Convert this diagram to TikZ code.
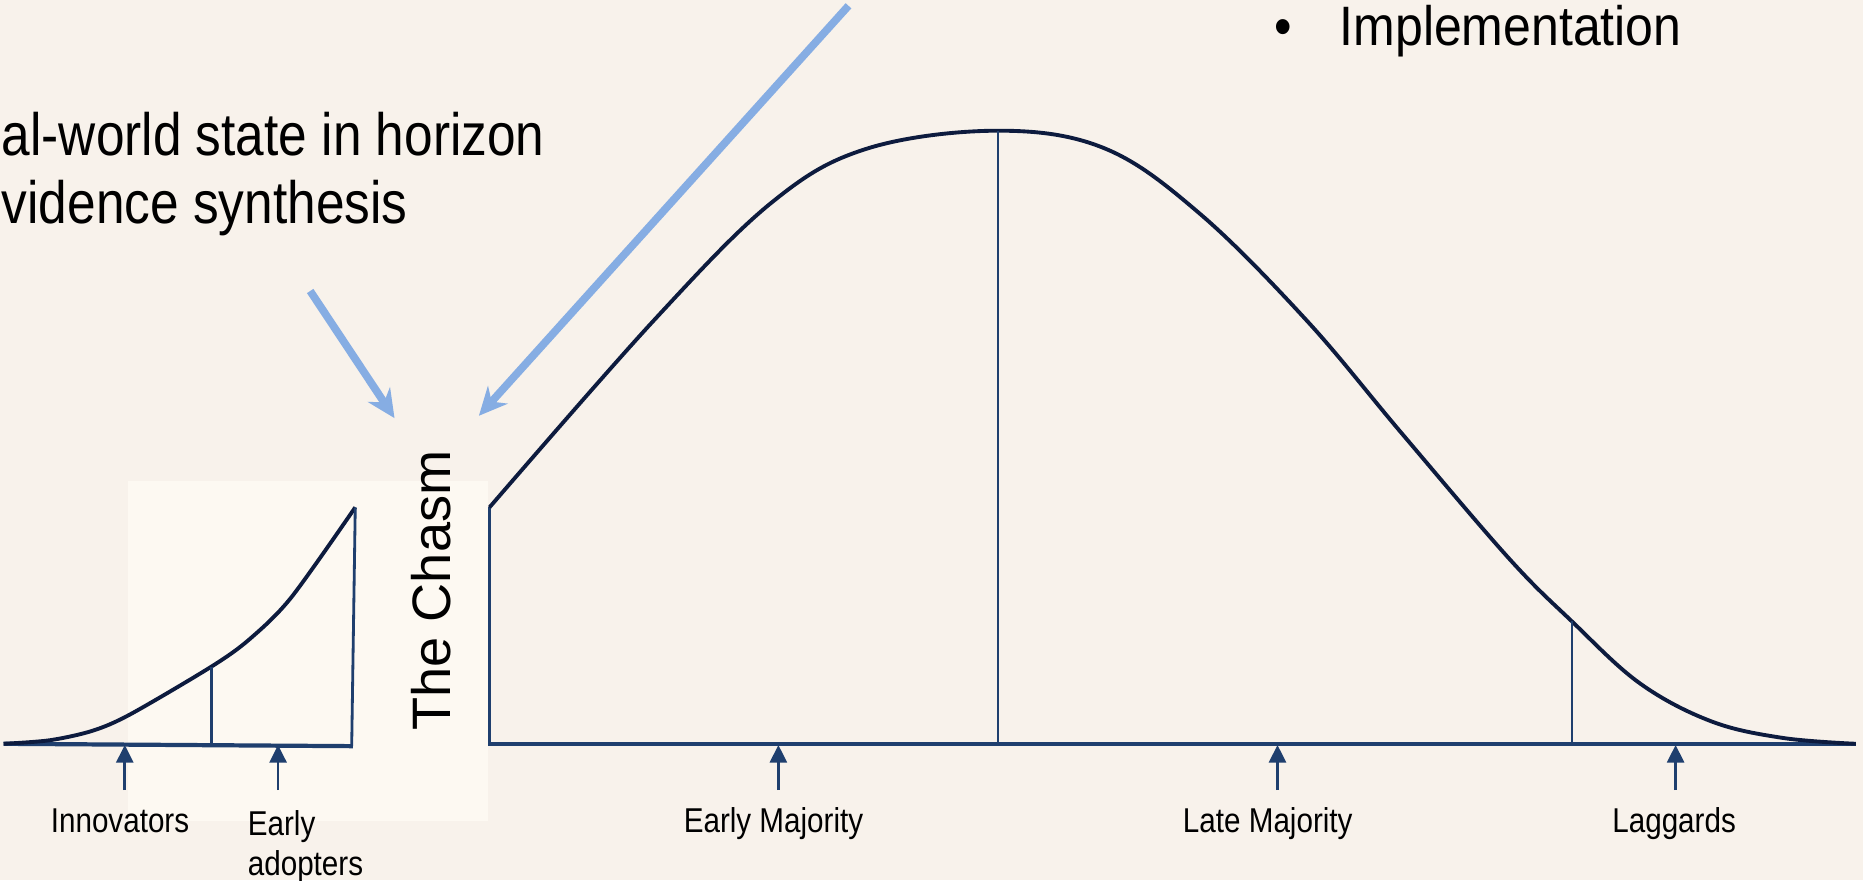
\documentclass[tikz,border=0pt]{standalone}
\usepackage{fontspec}
\setmainfont{Liberation Sans}
\newfontfamily\narrowsf[FakeStretch=0.86]{Liberation Sans}
\newfontfamily\bulletsf[FakeStretch=0.9]{Liberation Sans}
\definecolor{slidebg}{RGB}{248,242,235}
\definecolor{panelbg}{RGB}{253,249,242}
\definecolor{curvenavy}{RGB}{13,27,62}
\definecolor{axisblue}{RGB}{31,63,110}
\definecolor{pointblue}{RGB}{134,173,227}
\usetikzlibrary{arrows.meta, positioning}

\begin{document}
\begin{tikzpicture}[scale=1.188,
    curve/.style={line width=1.1pt, curvenavy, line join=round},
    axis/.style={line width=1.2pt, axisblue},
    split/.style={line width=0.8pt, axisblue},
    uparrow/.style={-{Triangle[length=5pt,width=4.8pt]}, line width=0.8pt, axisblue},
    pointer/.style={-{Stealth[length=8pt,width=7.5pt]}, line width=2.2pt, pointblue},
    group/.style={font=\narrowsf\fontsize{9.8}{11.1}\selectfont, inner sep=0pt}]
                \useasboundingbox (0,0) rectangle (15.68,7.41);
                \fill[slidebg] (0,0) rectangle (15.68,7.41);
                \fill[panelbg] (1.08,0.50) rectangle (4.11,3.36);

                % Early market: innovators and early adopters
                \draw[axis] (0.03,1.15) -- (2.97,1.13);
                \draw[curve] plot[smooth, tension=0.5] coordinates
                    {(0.03,1.15) (0.42,1.18) (0.78,1.26) (1.10,1.40) (1.78,1.80)
                     (2.10,2.03) (2.45,2.38) (2.99,3.14)};
                \draw[split] (1.78,1.80) -- (1.78,1.15);
                \draw[split] (2.99,3.14) -- (2.96,1.13);

                % Mainstream market
                \draw[axis] (4.11,1.15) -- (15.62,1.15);
                \draw[split] (4.12,1.15) -- (4.12,3.14);
                \draw[curve] plot[smooth, tension=0.6] coordinates
                    {(4.12,3.14) (5.50,4.71) (6.50,5.71) (7.30,6.16) (8.40,6.31) (9.30,6.16)
                     (10.10,5.61) (11.00,4.71) (11.80,3.76) (12.70,2.71) (13.23,2.18)
                     (13.80,1.66) (14.40,1.34) (15.00,1.20) (15.62,1.15)};
                \draw[split] (8.40,6.31) -- (8.40,1.15);
                \draw[split] (13.23,2.18) -- (13.23,1.15);

                \node[rotate=90, font=\fontsize{15.4}{18}\selectfont] (chasm) at (3.625,2.44) {The Chasm};

                % Adopter groups
                \foreach \x/\name in {1.05/innov, 2.34/adopt, 6.55/emaj, 10.75/lmaj, 14.10/lag} {
                    \coordinate (\name Tail) at (\x,0.76);
                    \coordinate (\name Tip) at (\x,1.14);
                    \draw[uparrow] (\name Tail) -- (\name Tip);
                }
                \node[group, anchor=base] (innov) at (1.01,0.40) {Innovators};
                \node[group, anchor=north west, align=left] (adopt) at (2.08,0.59) {Early\\adopters};
                \node[group, anchor=base] (emaj) at (6.51,0.40) {Early Majority};
                \node[group, anchor=base] (lmaj) at (10.67,0.40) {Late Majority};
                \node[group, anchor=base] (lag) at (14.09,0.40) {Laggards};

                % Slide text and pointers
                \node[anchor=north west, align=left, inner sep=0pt, font=\narrowsf\fontsize{17}{19.3}\selectfont]
                    (state) at (0.01,6.47) {al-world state in horizon\\vidence synthesis};
                \node[anchor=base west, inner sep=0pt, font=\bulletsf\fontsize{15.8}{18}\selectfont]
                    (impl) at (10.72,7.03) {\makebox[0.653cm][l]{•}Implementation};
                \coordinate (evTail) at (2.61,4.96);
                \coordinate (evTip) at (3.32,3.89);
                \coordinate (implTail) at (7.14,7.36);
                \coordinate (implTip) at (4.03,3.91);
                \draw[pointer] (evTail) -- (evTip);
                \draw[pointer] (implTail) -- (implTip);
            \end{tikzpicture}
\end{document}
